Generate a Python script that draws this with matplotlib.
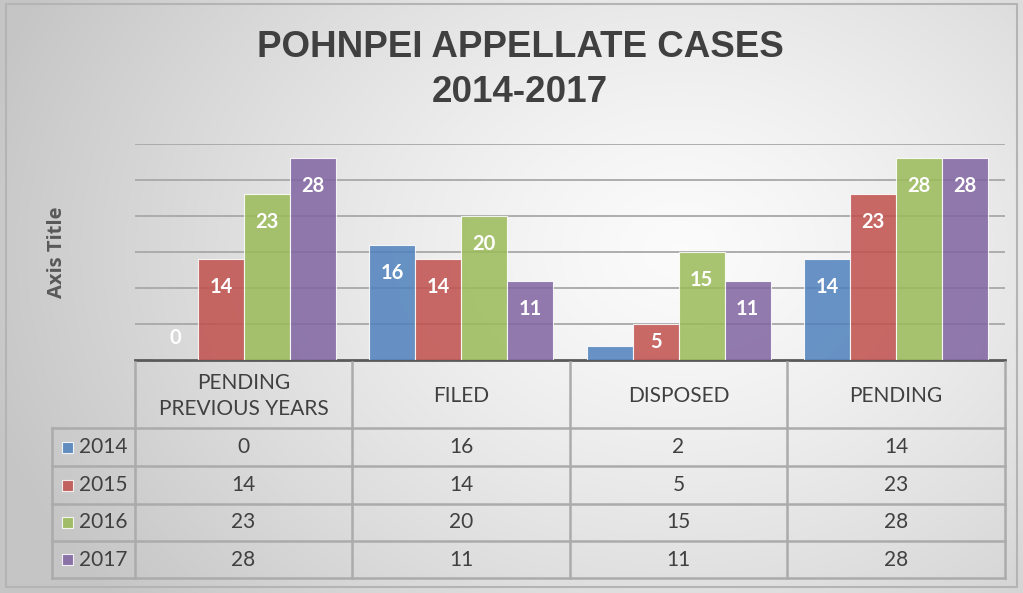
import numpy as np
import matplotlib
matplotlib.use("Agg")
import matplotlib.pyplot as plt
from matplotlib.patches import Rectangle
from matplotlib.lines import Line2D

# ---------------- data ----------------
categories = ["PENDING\nPREVIOUS YEARS", "FILED", "DISPOSED", "PENDING"]
years = ["2014", "2015", "2016", "2017"]
v2014 = [0, 16, 2, 14]
v2015 = [14, 14, 5, 23]
v2016 = [23, 20, 15, 28]
v2017 = [28, 11, 11, 28]
series = [v2014, v2015, v2016, v2017]
colors = ["#4f81bd", "#c0504d", "#9bbb59", "#8064a2"]
title = "POHNPEI APPELLATE CASES\n2014-2017"
y_label = "Axis Title"

W, H = 1023, 593
fig = plt.figure(figsize=(W / 100, H / 100), dpi=100)

# ---------------- background gradient ----------------
bg = fig.add_axes([0, 0, 1, 1], zorder=-10)
yy, xx = np.mgrid[0:H, 0:W]
d = np.sqrt(((xx - 680) / 720.0) ** 2 + ((yy - 250) / 560.0) ** 2)
d = np.clip(d, 0, 1)
val = 0.985 - 0.21 * d ** 1.3
img = np.dstack([val, val, val])
bg.imshow(img, extent=[0, W, H, 0], aspect="auto", interpolation="bilinear")
bg.set_xlim(0, W)
bg.set_ylim(H, 0)
bg.axis("off")
bg.add_patch(Rectangle((6, 4), W - 12, H - 10, fill=False, edgecolor="#b4b4b4", lw=1.5))

def fx(px):
    return px / W

def fy(py):
    return 1 - py / H

# ---------------- title ----------------
fig.text(fx(520), fy(70), title, ha="center", va="center", fontsize=26.5, fontweight="bold",
         color="#404040", family=["Liberation Sans", "DejaVu Sans"], linespacing=1.4)
fig.text(fx(57), fy(252), y_label, ha="center", va="center", rotation=90, fontsize=14.5,
         fontweight="bold", color="#595959", family=["Open Sans", "DejaVu Sans"])

# ---------------- bars ----------------
L, R, T, B = 135, 1005, 144, 360
ax = fig.add_axes([fx(L), fy(B), (R - L) / W, (B - T) / H])
ax.set_facecolor("none")
ax.set_xlim(-0.5, len(categories) - 0.5)
ax.set_ylim(0, 30)
ax.set_yticks(np.arange(5, 31, 5))
ax.yaxis.grid(True, color="#a8a8a8", lw=1.3)
ax.set_axisbelow(True)
ax.tick_params(left=False, bottom=False, labelleft=False, labelbottom=False)
for s in ["left", "right", "top"]:
    ax.spines[s].set_visible(False)
ax.spines["bottom"].set_color("#595959")
ax.spines["bottom"].set_linewidth(2)

x = np.arange(len(categories))
bw = 0.211
px_per_unit = (B - T) / 30.0
for i, (vals, c) in enumerate(zip(series, colors)):
    off = (i - 1.5) * bw
    ax.bar(x + off, vals, width=bw, color=c, alpha=0.85, edgecolor=(1, 1, 1, 0.6), lw=0.8, zorder=3)
    for xi, v in zip(x + off, vals):
        hpx = v * px_per_unit
        if v == 0:
            dy = 22
        elif hpx < 20:
            continue
        elif hpx < 56:
            dy = -hpx / 2
        else:
            dy = -28
        ax.annotate(str(v), (xi, v), xytext=(0, dy), textcoords="offset pixels",
                    ha="center", va="center", color="white", fontsize=14.5, fontweight="bold",
                    family=["Lato", "DejaVu Sans"], zorder=5)

# ---------------- data table ----------------
tab = fig.add_axes([0, 0, 1, 1], zorder=2)
tab.set_xlim(0, W)
tab.set_ylim(H, 0)
tab.axis("off")
tab.patch.set_alpha(0)

col_edges = [135, 352, 570, 787, 1005]
row_edges = [362, 428, 466, 504, 541, 578]
leg_left = 52
gc = "#ababab"
glw = 1.8
for yv in row_edges[1:]:
    tab.add_line(Line2D([leg_left, R], [yv, yv], color=gc, lw=glw))
for xv in col_edges:
    tab.add_line(Line2D([xv, xv], [row_edges[0], row_edges[-1]], color=gc, lw=glw))
tab.add_line(Line2D([leg_left, leg_left], [row_edges[1], row_edges[-1]], color=gc, lw=glw))

tfont = ["Lato", "DejaVu Sans"]
tcol = "#404040"
for j, cat in enumerate(categories):
    cx = (col_edges[j] + col_edges[j + 1]) / 2
    tab.text(cx, (row_edges[0] + row_edges[1]) / 2 + 1, cat, ha="center", va="center",
             fontsize=15, color=tcol, family=tfont, linespacing=1.35)
for i, (yr, vals, c) in enumerate(zip(years, series, colors)):
    cy = (row_edges[i + 1] + row_edges[i + 2]) / 2
    tab.add_patch(Rectangle((62, cy - 5.5), 11, 11, facecolor=c, alpha=0.85,
                            edgecolor=(1, 1, 1, 0.7), lw=0.8))
    tab.text(79, cy, yr, ha="left", va="center", fontsize=15, color=tcol, family=tfont)
    for j, v in enumerate(vals):
        cx = (col_edges[j] + col_edges[j + 1]) / 2
        tab.text(cx, cy, str(v), ha="center", va="center", fontsize=15, color=tcol, family=tfont)

fig.savefig("out.png", dpi=100)
